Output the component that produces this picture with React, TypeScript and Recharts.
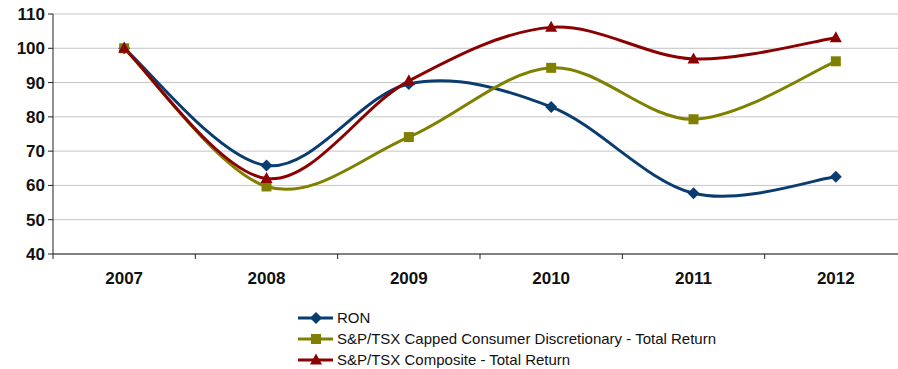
import { LineChart, Line, XAxis, YAxis, CartesianGrid } from 'recharts';

const YEARS = ['2007', '2008', '2009', '2010', '2011', '2012'];
const RON = [100, 65.8, 89.6, 82.9, 57.7, 62.5];
const CONS_DISC = [100, 59.7, 74.1, 94.3, 79.3, 96.2];
const COMPOSITE = [100, 62.0, 90.5, 106.1, 96.9, 103.1];
const Y_TICKS = [40, 50, 60, 70, 80, 90, 100, 110];

const SERIES = [
  { key: 'ron', name: 'RON', color: '#0a3d6f', shape: 'diamond' },
  { key: 'disc', name: 'S&P/TSX Capped Consumer Discretionary - Total Return', color: '#808000', shape: 'square' },
  { key: 'comp', name: 'S&P/TSX Composite - Total Return', color: '#8b0000', shape: 'triangle' },
];

const data = YEARS.map((year, i) => ({
  i,
  year,
  ron: RON[i],
  disc: CONS_DISC[i],
  comp: COMPOSITE[i],
}));

// category boundaries, where the excel-style tick marks sit
const BOUNDS = [...YEARS.map((_, i) => i - 0.5), YEARS.length - 0.5];

const FONT = '"Liberation Sans", Arial, sans-serif';

// excel-like smoothed line (catmull-rom as bezier)
const excelSmooth = (ctx: any) => {
  let pts: number[][] = [];
  return {
    areaStart() {},
    areaEnd() {},
    lineStart() {
      pts = [];
    },
    point(x: number, y: number) {
      pts.push([+x, +y]);
    },
    lineEnd() {
      if (!pts.length) return;
      ctx.moveTo(pts[0][0], pts[0][1]);
      for (let k = 0; k < pts.length - 1; k++) {
        const p0 = pts[Math.max(k - 1, 0)];
        const p1 = pts[k];
        const p2 = pts[k + 1];
        const p3 = pts[Math.min(k + 2, pts.length - 1)];
        ctx.bezierCurveTo(
          p1[0] + (p2[0] - p0[0]) / 6,
          p1[1] + (p2[1] - p0[1]) / 6,
          p2[0] - (p3[0] - p1[0]) / 6,
          p2[1] - (p3[1] - p1[1]) / 6,
          p2[0],
          p2[1],
        );
      }
    },
  };
};

function Marker({ cx, cy, shape, color }: { cx: number; cy: number; shape: string; color: string }) {
  if (shape === 'diamond') {
    return <path d={`M${cx},${cy - 6}L${cx + 6},${cy}L${cx},${cy + 6}L${cx - 6},${cy}Z`} fill={color} />;
  }
  if (shape === 'square') {
    return <rect x={cx - 5} y={cy - 5} width={10} height={10} fill={color} />;
  }
  return <path d={`M${cx},${cy - 6.5}L${cx + 6},${cy + 4.5}L${cx - 6},${cy + 4.5}Z`} fill={color} />;
}

const NoLabel = () => <g />;

export default function App() {
  return (
    <div style={{ position: 'absolute', left: 0, top: 0, width: 898, height: 369, overflow: 'hidden', background: '#fff' }}>
      <LineChart width={920} height={369} data={data} margin={{ top: 14, right: 13, left: 0, bottom: 79 }}>
        <CartesianGrid vertical={false} stroke="#c4c4c4" strokeWidth={1} />
        <XAxis
          xAxisId="bounds"
          dataKey="i"
          type="number"
          domain={[-0.5, YEARS.length - 0.5]}
          ticks={BOUNDS}
          tick={NoLabel}
          tickSize={5}
          height={6}
          stroke="#222"
          interval={0}
          allowDataOverflow
        />
        <XAxis
          xAxisId="labels"
          dataKey="i"
          type="number"
          domain={[-0.5, YEARS.length - 0.5]}
          ticks={YEARS.map((_, i) => i)}
          tickFormatter={(v: number) => YEARS[v] ?? ''}
          axisLine={false}
          tickLine={false}
          tickSize={0}
          tickMargin={12}
          height={30}
          interval={0}
          tick={{ fill: '#111', fontSize: 17, fontWeight: 'bold', fontFamily: FONT }}
        />
        <YAxis
          domain={[40, 110]}
          ticks={Y_TICKS}
          width={53}
          tickSize={5}
          tickMargin={3}
          stroke="#222"
          interval={0}
          tick={{ fill: '#111', fontSize: 17, fontWeight: 'bold', fontFamily: FONT }}
        />
        {SERIES.map((s) => (
          <Line
            key={s.key}
            xAxisId="bounds"
            dataKey={s.key}
            name={s.name}
            type={excelSmooth as any}
            stroke={s.color}
            strokeWidth={3}
            isAnimationActive={false}
            dot={(p: any) => <Marker key={`${s.key}-${p.index}`} cx={p.cx} cy={p.cy} shape={s.shape} color={s.color} />}
            activeDot={false}
          />
        ))}
      </LineChart>
      <div style={{ position: 'absolute', left: 298, top: 307, fontFamily: FONT, fontSize: 15, color: '#111' }}>
        {SERIES.map((s) => (
          <div key={s.key} style={{ display: 'flex', alignItems: 'center', height: 21 }}>
            <svg width={36} height={14} style={{ marginRight: 3 }}>
              <line x1={0} y1={7} x2={35} y2={7} stroke={s.color} strokeWidth={3} />
              <Marker cx={18} cy={7} shape={s.shape} color={s.color} />
            </svg>
            <span>{s.name}</span>
          </div>
        ))}
      </div>
    </div>
  );
}
